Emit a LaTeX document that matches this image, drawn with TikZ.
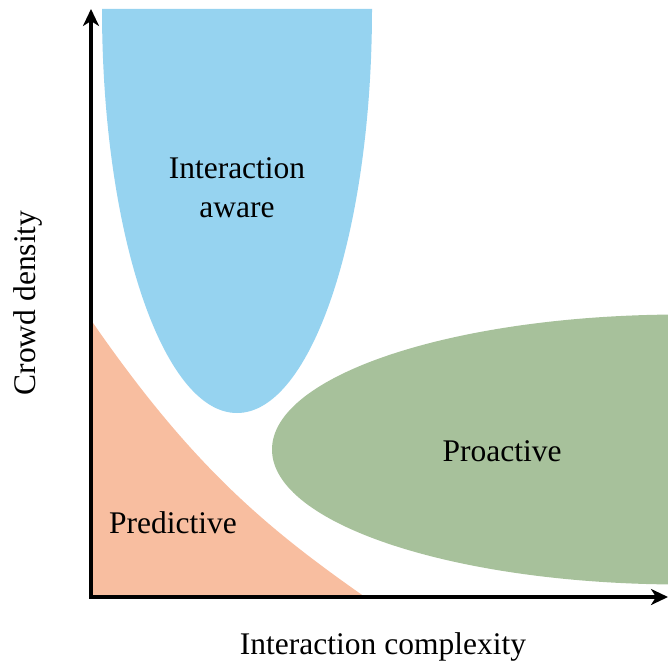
\documentclass[tikz,border=0pt]{standalone}
\usepackage{fontspec}
\setmainfont{Liberation Serif}
\usetikzlibrary{arrows.meta}
\definecolor{cblue}{RGB}{150,211,240}
\definecolor{cgreen}{RGB}{167,193,155}
\definecolor{corange}{RGB}{248,190,160}
\begin{document}
\begin{tikzpicture}[x=1pt,y=-1pt,
  lbl/.style={font=\fontsize{31.5}{39}\selectfont, align=center, inner sep=0pt},
  axis/.style={line width=4pt, -{Stealth[length=17pt,width=16pt,inset=5pt]}}]
\useasboundingbox (0,0) rectangle (668,663);
\begin{scope}
\clip (0,0) rectangle (668,663);
% blue region
\fill[cblue] (102,9) -- (372,9) arc[start angle=0, end angle=180, x radius=135, y radius=404] -- cycle;
% green region
\fill[cgreen] (682,449.5) ellipse[x radius=410, y radius=135];
\end{scope}
% orange region
\fill[corange] (91,320) .. controls (191,465) and (265,527) .. (365,597) -- (91,597) -- cycle;
% axes
\coordinate (o) at (91,597);
\coordinate (ytop) at (91,9);
\coordinate (xend) at (668,597);
\draw[axis] ([yshift=2pt]o) -- (ytop);
\draw[axis] ([xshift=-2pt]o) -- (xend);
% labels
\node[lbl] (ia) at (237,188) {Interaction\\aware};
\node[lbl] (pro) at (502,451) {Proactive};
\node[lbl] (pre) at (173,523) {Predictive};
\node[lbl] (xl) at (383,647) {Interaction complexity};
\node[lbl, rotate=90] (yl) at (28,303) {Crowd density};
\end{tikzpicture}
\end{document}
